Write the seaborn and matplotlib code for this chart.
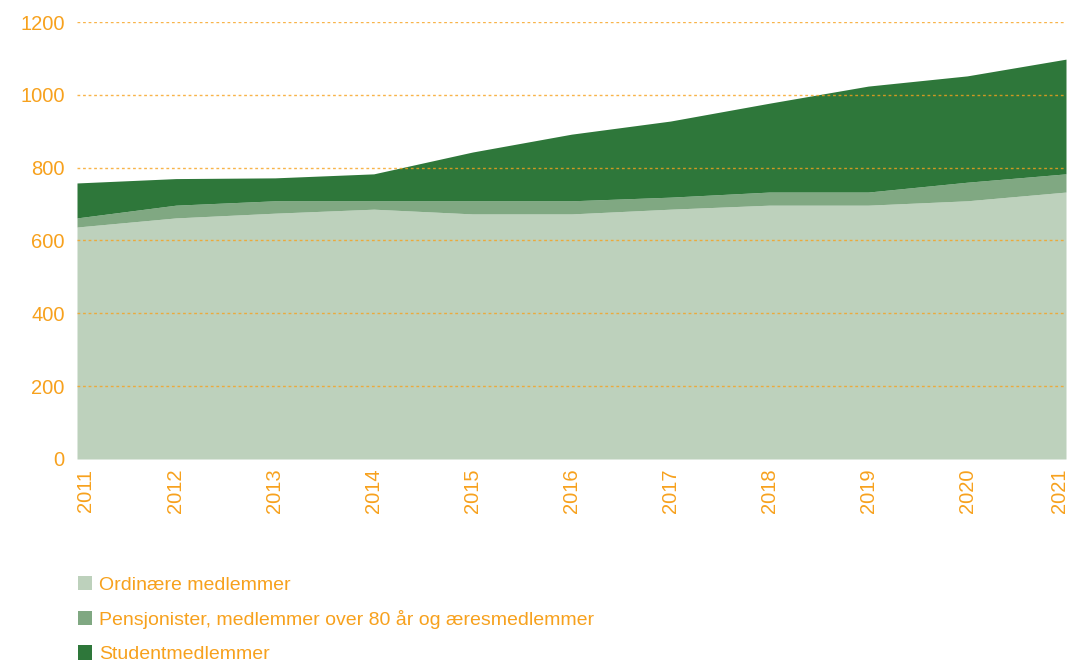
import matplotlib
matplotlib.use("Agg")
import matplotlib.pyplot as plt
import matplotlib.transforms as mtransforms
from matplotlib.patches import Patch
import seaborn as sns
import numpy as np

years = [2011, 2012, 2013, 2014, 2015, 2016, 2017, 2018, 2019, 2020, 2021]
ordinary = [637, 662, 675, 686, 673, 673, 686, 697, 697, 709, 733]
pension = [25, 35, 34, 23, 36, 36, 33, 36, 36, 51, 50]
student = [96, 73, 63, 74, 134, 183, 209, 244, 291, 292, 315]
labels = ["Ordinære medlemmer",
          "Pensjonister, medlemmer over 80 år og æresmedlemmer",
          "Studentmedlemmer"]
yticks = [0, 200, 400, 600, 800, 1000, 1200]

colors = ["#bdd1bc", "#80a882", "#2e773a"]
orange = "#f7a11d"

sns.set_theme(style="white")
plt.rcParams['font.family'] = ['Liberation Sans', 'DejaVu Sans']

fig = plt.figure(figsize=(10.74, 6.62), dpi=100)
ax = fig.add_axes([77/1074, 1-459/662, (1066-77)/1074, (459-22)/662])

ax.stackplot(years, ordinary, pension, student, colors=colors, linewidth=0)

for y in yticks[1:]:
    ax.axhline(y, color=orange, lw=1.0, ls=(0, (2, 2)), alpha=0.8, zorder=5)

ax.set_xlim(years[0], years[-1])
ax.set_ylim(0, 1200)
ax.set_xticks(years)
ax.set_xticklabels([str(y) for y in years], rotation=90, color=orange, fontsize=14.5)
ax.set_yticks(yticks)
ax.set_yticklabels([str(y) for y in yticks], color=orange, fontsize=14.5)
ax.tick_params(axis="x", length=0, pad=7)
ax.tick_params(axis="y", length=0, pad=9)
for s in ax.spines.values():
    s.set_visible(False)
ax.set_xlabel("")
ax.set_ylabel("")

# first and last x labels are kept inside the plot area
xtl = ax.get_xticklabels()
xtl[0].set_transform(xtl[0].get_transform() + mtransforms.ScaledTranslation(8/100, 0, fig.dpi_scale_trans))
xtl[-1].set_transform(xtl[-1].get_transform() + mtransforms.ScaledTranslation(-6/100, 0, fig.dpi_scale_trans))

handles = [Patch(facecolor=c, edgecolor="none") for c in colors]
leg = fig.legend(handles, labels, loc="upper left", bbox_to_anchor=(70/1074, 1-568/662),
                 frameon=False, fontsize=14.0, handlelength=0.75, handleheight=0.75,
                 handletextpad=0.35, labelspacing=0.84, borderaxespad=0)
for t in leg.get_texts():
    t.set_color(orange)

fig.savefig("out.png", dpi=100)
